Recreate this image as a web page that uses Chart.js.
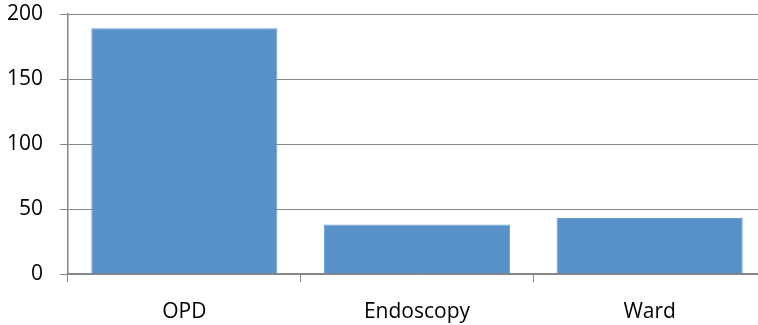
<!DOCTYPE html>
<html>
<head>
<meta charset="utf-8">
<script src="https://cdn.jsdelivr.net/npm/chart.js@4"></script>
<style>
  html, body { margin: 0; padding: 0; background: #fff; overflow: hidden; }
  #wrap { position: absolute; left: 0; top: 0; width: 766px; height: 325px; }
</style>
</head>
<body>
<div id="wrap"><canvas id="chart"></canvas></div>
<script>
// categories and values
const categories = ['OPD', 'Endoscopy', 'Ward']
const counts = [189, 38, 43]
const yTicks = [0, 50, 100, 150, 200]

const axisGrey = '#868686'
const labelFont = { family: 'Open Sans', size: 21 }

new Chart(document.getElementById('chart'), {
    type: 'bar',
    data: {
        labels: categories,
        datasets: [{
            data: counts,
            backgroundColor: '#5891c8',
            borderColor: '#6a9ed0',
            borderWidth: 1,
            categoryPercentage: 1,
            barPercentage: 0.8
        }]
    },
    options: {
        responsive: true,
        maintainAspectRatio: false,
        animation: false,
        layout: { padding: { left: 0, top: 14, right: 0, bottom: 0 } },
        plugins: {
            legend: { display: false },
            tooltip: { enabled: false }
        },
        scales: {
            x: {
                offset: true,
                border: { color: axisGrey, width: 1.5 },
                grid: { offset: true, drawOnChartArea: false, drawTicks: true, tickLength: 8, color: axisGrey },
                ticks: { color: '#000', padding: 17, font: labelFont },
                afterFit: axis => { axis.height = 51 }
            },
            y: {
                min: 0,
                max: 200,
                afterBuildTicks: axis => { axis.ticks = yTicks.map(v => ({ value: v })) },
                border: { color: axisGrey, width: 1.5 },
                grid: { color: axisGrey, tickLength: 8 },
                ticks: { color: '#000', padding: 17, font: labelFont },
                afterFit: axis => {
                    axis.width = 68
                    axis.paddingTop = 0
                    axis.paddingBottom = 0
                }
            }
        }
    }
})
</script>
</body>
</html>
